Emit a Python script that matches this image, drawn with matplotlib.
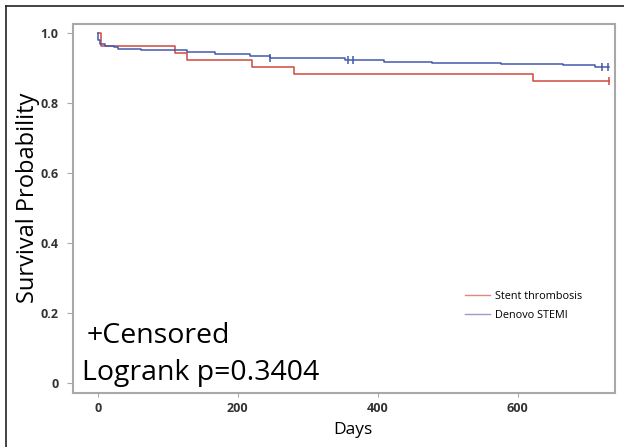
import numpy as np
import matplotlib.pyplot as plt
from matplotlib.lines import Line2D

plt.rcParams['font.family'] = ['Open Sans', 'DejaVu Sans']

# curva Kaplan-Meier (dias, supervivencia)
t_stent = [0, 5, 111, 127, 220, 281, 622, 731]
s_stent = [1.0, 0.963, 0.941, 0.922, 0.903, 0.882, 0.862, 0.862]
cens_stent_t = [731]

t_denovo = [0, 1, 3, 10, 24, 29, 62, 127, 167, 217, 246, 353, 409, 478, 525, 576, 664, 710, 730]
s_denovo = [1.0, 0.979, 0.967, 0.963, 0.958, 0.953, 0.950, 0.946, 0.939, 0.934, 0.928,
            0.922, 0.918, 0.915, 0.913, 0.910, 0.907, 0.903, 0.903]
cens_denovo_t = [246, 357, 364, 720, 729]

yticks = [0, 0.2, 0.4, 0.6, 0.8, 1.0]
ytick_labels = ['0', '0.2', '0.4', '0.6', '0.8', '1.0']
xticks = [0, 200, 400, 600]

rojo = '#cf4a3f'
azul = '#4458ad'

def km_at(t, s, tc):
    # valor de la curva escalonada en los tiempos censurados
    return [s[np.searchsorted(t, x, side='right') - 1] for x in tc]

fig = plt.figure(figsize=(6.24, 4.47), dpi=100)
ax = fig.add_axes([0.1165, 0.1215, 0.8691, 0.8248])

ax.step(t_stent, s_stent, where='post', color=rojo, lw=1.1)
ax.step(t_denovo, s_denovo, where='post', color=azul, lw=1.1)
ax.plot(cens_stent_t, km_at(t_stent, s_stent, cens_stent_t), ls='none', marker='|',
        ms=6, mew=1.1, color=rojo)
ax.plot(cens_denovo_t, km_at(t_denovo, s_denovo, cens_denovo_t), ls='none', marker='|',
        ms=6, mew=1.1, color=azul)

ax.set_xlim(-35.7, 739)
ax.set_ylim(-0.027, 1.025)
ax.set_yticks(yticks)
ax.set_yticklabels(ytick_labels)
ax.set_xticks(xticks)
for sp in ax.spines.values():
    sp.set_color('#a8a8a8')
    sp.set_linewidth(1.5)
ax.tick_params(axis='both', colors='#a8a8a8', labelcolor='#333333', labelsize=9, direction='out')
ax.tick_params(axis='y', length=4.3, pad=6)
ax.tick_params(axis='x', length=3, pad=4)
for lab in ax.get_xticklabels() + ax.get_yticklabels():
    lab.set_fontweight('bold')

handles = [Line2D([], [], color='#e08880', lw=1), Line2D([], [], color='#9a9ccc', lw=1)]
ax.legend(handles, ['Stent thrombosis', 'Denovo STEMI'], loc='upper left',
          bbox_to_anchor=(0.7234, 0.276), frameon=False, fontsize=7.8,
          handlelength=2.3, handletextpad=0.45, labelspacing=0.75,
          borderpad=0, borderaxespad=0)

ax.text(0.026, 0.134, '+Censored', transform=ax.transAxes, fontsize=20.5, va='baseline')
ax.text(0.0166, 0.0344, 'Logrank p=0.3404', transform=ax.transAxes, fontsize=20.5, va='baseline')

fig.text(28/624, (447-198)/447, 'Survival Probability', rotation=90, ha='center',
         va='center', fontsize=17)
fig.text(353/624, (447-430)/447, 'Days', ha='center', va='center', fontsize=12.5)

# marco exterior (solo arriba e izquierda)
fig.add_artist(Line2D([6/624, 1], [1-6/447, 1-6/447], color='#222222', lw=1.2))
fig.add_artist(Line2D([6/624, 6/624], [0, 1-6/447], color='#222222', lw=1.2))

fig.savefig('out.png', dpi=100)
